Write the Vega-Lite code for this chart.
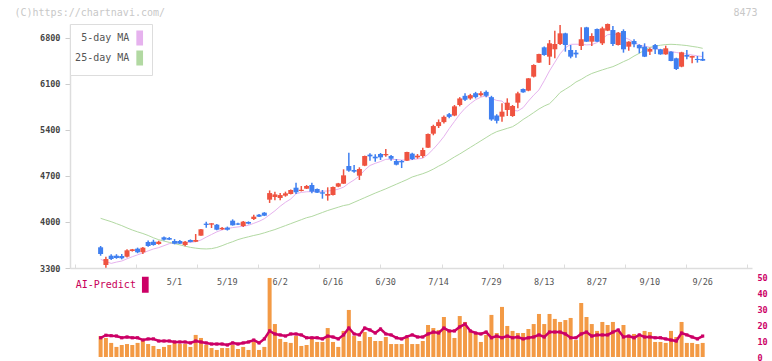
{
 "$schema": "https://vega.github.io/schema/vega-lite/v6.json",
 "background": "#ffffff",
 "padding": {"left": 14, "top": 7, "right": 2, "bottom": 0},
 "config": {"font": "DejaVu Sans Mono", "view": {"stroke": null}, "axis": {"grid": false}, "line": {"strokeWidth": 1.7}},
 "datasets": {"candles": [
{"i":0,"d":"4/14","o":3615,"h":3635,"l":3487,"c":3513,"5-day MA":3432,"25-day MA":4056,"v":13.1,"ai":12},
{"i":1,"d":"4/15","o":3346,"h":3472,"l":3305,"c":3437,"5-day MA":3400,"25-day MA":4030,"v":11.9,"ai":13.6},
{"i":2,"d":"4/16","o":3487,"h":3510,"l":3420,"c":3437,"5-day MA":3370,"25-day MA":4005,"v":8.8,"ai":13.3},
{"i":3,"d":"4/17","o":3487,"h":3510,"l":3440,"c":3452,"5-day MA":3390,"25-day MA":3975,"v":6.3,"ai":13.1},
{"i":4,"d":"4/18","o":3483,"h":3513,"l":3432,"c":3448,"5-day MA":3406,"25-day MA":3945,"v":7.5,"ai":12},
{"i":5,"d":"4/21","o":3472,"h":3585,"l":3460,"c":3569,"5-day MA":3440,"25-day MA":3910,"v":8.1,"ai":12.5},
{"i":6,"d":"4/22","o":3559,"h":3590,"l":3550,"c":3584,"5-day MA":3472,"25-day MA":3878,"v":7.5,"ai":12},
{"i":7,"d":"4/23","o":3594,"h":3610,"l":3525,"c":3539,"5-day MA":3500,"25-day MA":3850,"v":8.8,"ai":12},
{"i":8,"d":"4/24","o":3539,"h":3620,"l":3513,"c":3609,"5-day MA":3530,"25-day MA":3825,"v":10,"ai":10.6},
{"i":9,"d":"4/25","o":3696,"h":3720,"l":3625,"c":3635,"5-day MA":3560,"25-day MA":3795,"v":8.1,"ai":11.3},
{"i":10,"d":"4/28","o":3700,"h":3730,"l":3640,"c":3650,"5-day MA":3590,"25-day MA":3760,"v":6.9,"ai":11.3},
{"i":11,"d":"4/30","o":3665,"h":3715,"l":3655,"c":3700,"5-day MA":3610,"25-day MA":3730,"v":5,"ai":10},
{"i":12,"d":"5/1","o":3767,"h":3780,"l":3720,"c":3731,"5-day MA":3640,"25-day MA":3710,"v":6.3,"ai":10},
{"i":13,"d":"5/2","o":3756,"h":3770,"l":3725,"c":3731,"5-day MA":3670,"25-day MA":3690,"v":7.5,"ai":10},
{"i":14,"d":"5/7","o":3711,"h":3740,"l":3660,"c":3670,"5-day MA":3685,"25-day MA":3672,"v":8.8,"ai":9.4},
{"i":15,"d":"5/8","o":3711,"h":3725,"l":3665,"c":3670,"5-day MA":3685,"25-day MA":3652,"v":8.1,"ai":9.4},
{"i":16,"d":"5/9","o":3650,"h":3710,"l":3630,"c":3700,"5-day MA":3685,"25-day MA":3632,"v":8.1,"ai":9.4},
{"i":17,"d":"5/12","o":3726,"h":3735,"l":3690,"c":3696,"5-day MA":3690,"25-day MA":3614,"v":6.3,"ai":8.8},
{"i":18,"d":"5/13","o":3700,"h":3817,"l":3695,"c":3726,"5-day MA":3700,"25-day MA":3602,"v":13.8,"ai":10},
{"i":19,"d":"5/14","o":3792,"h":3895,"l":3790,"c":3889,"5-day MA":3726,"25-day MA":3593,"v":11.9,"ai":9.4},
{"i":20,"d":"5/15","o":3975,"h":4005,"l":3913,"c":3955,"5-day MA":3770,"25-day MA":3590,"v":7.5,"ai":8.8},
{"i":21,"d":"5/16","o":3960,"h":3982,"l":3909,"c":3980,"5-day MA":3810,"25-day MA":3595,"v":5.6,"ai":8.1},
{"i":22,"d":"5/19","o":3959,"h":3970,"l":3875,"c":3883,"5-day MA":3850,"25-day MA":3612,"v":4.4,"ai":8.1},
{"i":23,"d":"5/20","o":3889,"h":3925,"l":3880,"c":3910,"5-day MA":3880,"25-day MA":3640,"v":5.6,"ai":8.1},
{"i":24,"d":"5/21","o":3915,"h":3930,"l":3870,"c":3882,"5-day MA":3900,"25-day MA":3672,"v":5.6,"ai":7.5},
{"i":25,"d":"5/22","o":4020,"h":4040,"l":3945,"c":3950,"5-day MA":3915,"25-day MA":3700,"v":7.5,"ai":8.8},
{"i":26,"d":"5/23","o":3978,"h":3990,"l":3955,"c":3960,"5-day MA":3925,"25-day MA":3732,"v":5,"ai":8.1},
{"i":27,"d":"5/26","o":3939,"h":4015,"l":3925,"c":4005,"5-day MA":3935,"25-day MA":3755,"v":6.3,"ai":8.8},
{"i":28,"d":"5/27","o":4000,"h":4010,"l":3965,"c":3975,"5-day MA":3950,"25-day MA":3775,"v":4.4,"ai":9.4},
{"i":29,"d":"5/28","o":4046,"h":4110,"l":4030,"c":4081,"5-day MA":3980,"25-day MA":3795,"v":9.4,"ai":10.6},
{"i":30,"d":"5/29","o":4111,"h":4120,"l":4075,"c":4081,"5-day MA":4010,"25-day MA":3812,"v":4.4,"ai":8.8},
{"i":31,"d":"5/30","o":4142,"h":4150,"l":4090,"c":4096,"5-day MA":4050,"25-day MA":3835,"v":6.3,"ai":11.3},
{"i":32,"d":"6/2","o":4340,"h":4480,"l":4290,"c":4440,"5-day MA":4110,"25-day MA":3860,"v":49.4,"ai":16.3},
{"i":33,"d":"6/3","o":4380,"h":4460,"l":4330,"c":4420,"5-day MA":4170,"25-day MA":3885,"v":20.6,"ai":14.4},
{"i":34,"d":"6/4","o":4365,"h":4440,"l":4330,"c":4410,"5-day MA":4240,"25-day MA":3915,"v":11.3,"ai":13.8},
{"i":35,"d":"6/5","o":4401,"h":4462,"l":4385,"c":4436,"5-day MA":4300,"25-day MA":3945,"v":9.4,"ai":13.1},
{"i":36,"d":"6/6","o":4426,"h":4495,"l":4420,"c":4487,"5-day MA":4350,"25-day MA":3975,"v":8.8,"ai":14.4},
{"i":37,"d":"6/9","o":4522,"h":4598,"l":4426,"c":4452,"5-day MA":4430,"25-day MA":4005,"v":13.1,"ai":14.4},
{"i":38,"d":"6/10","o":4472,"h":4548,"l":4465,"c":4490,"5-day MA":4450,"25-day MA":4035,"v":6.9,"ai":13.8},
{"i":39,"d":"6/11","o":4507,"h":4563,"l":4502,"c":4548,"5-day MA":4460,"25-day MA":4065,"v":7.5,"ai":12},
{"i":40,"d":"6/12","o":4563,"h":4598,"l":4436,"c":4462,"5-day MA":4462,"25-day MA":4085,"v":11.3,"ai":12},
{"i":41,"d":"6/13","o":4502,"h":4510,"l":4440,"c":4446,"5-day MA":4465,"25-day MA":4115,"v":9.4,"ai":12},
{"i":42,"d":"6/16","o":4452,"h":4487,"l":4355,"c":4432,"5-day MA":4468,"25-day MA":4145,"v":9.4,"ai":11.3},
{"i":43,"d":"6/17","o":4401,"h":4528,"l":4325,"c":4426,"5-day MA":4472,"25-day MA":4175,"v":18.1,"ai":13.1},
{"i":44,"d":"6/18","o":4411,"h":4540,"l":4405,"c":4533,"5-day MA":4480,"25-day MA":4200,"v":9.4,"ai":12.5},
{"i":45,"d":"6/19","o":4538,"h":4595,"l":4530,"c":4588,"5-day MA":4500,"25-day MA":4225,"v":6.3,"ai":11.3},
{"i":46,"d":"6/20","o":4583,"h":4802,"l":4580,"c":4710,"5-day MA":4530,"25-day MA":4250,"v":16.3,"ai":13.8},
{"i":47,"d":"6/23","o":4852,"h":5055,"l":4766,"c":4781,"5-day MA":4590,"25-day MA":4265,"v":29.4,"ai":18.1},
{"i":48,"d":"6/24","o":4791,"h":4867,"l":4751,"c":4766,"5-day MA":4640,"25-day MA":4300,"v":13.1,"ai":14.4},
{"i":49,"d":"6/25","o":4705,"h":4832,"l":4639,"c":4806,"5-day MA":4700,"25-day MA":4335,"v":10,"ai":13.8},
{"i":50,"d":"6/26","o":4857,"h":5010,"l":4850,"c":5004,"5-day MA":4790,"25-day MA":4370,"v":15.6,"ai":18.1},
{"i":51,"d":"6/27","o":5025,"h":5045,"l":4933,"c":4999,"5-day MA":4860,"25-day MA":4405,"v":12.5,"ai":16.9},
{"i":52,"d":"6/30","o":4994,"h":5030,"l":4918,"c":4969,"5-day MA":4893,"25-day MA":4440,"v":10,"ai":15},
{"i":53,"d":"7/1","o":5035,"h":5050,"l":4943,"c":4984,"5-day MA":4920,"25-day MA":4472,"v":10,"ai":17.5},
{"i":54,"d":"7/2","o":5015,"h":5111,"l":4994,"c":5035,"5-day MA":4954,"25-day MA":4505,"v":12.5,"ai":14.4},
{"i":55,"d":"7/3","o":5004,"h":5020,"l":4933,"c":4963,"5-day MA":4954,"25-day MA":4540,"v":8.1,"ai":13.8},
{"i":56,"d":"7/4","o":4928,"h":4958,"l":4862,"c":4872,"5-day MA":4950,"25-day MA":4575,"v":8.1,"ai":12},
{"i":57,"d":"7/7","o":4928,"h":4943,"l":4821,"c":4908,"5-day MA":4943,"25-day MA":4610,"v":8.1,"ai":11.3},
{"i":58,"d":"7/8","o":4933,"h":5070,"l":4928,"c":5065,"5-day MA":4943,"25-day MA":4645,"v":11.9,"ai":12.7},
{"i":59,"d":"7/9","o":5040,"h":5055,"l":4943,"c":4958,"5-day MA":4950,"25-day MA":4685,"v":8.1,"ai":13.8},
{"i":60,"d":"7/10","o":4984,"h":5035,"l":4963,"c":5009,"5-day MA":4960,"25-day MA":4710,"v":8.1,"ai":12.5},
{"i":61,"d":"7/11","o":5004,"h":5131,"l":4979,"c":5096,"5-day MA":4970,"25-day MA":4735,"v":10,"ai":12.5},
{"i":62,"d":"7/14","o":5131,"h":5345,"l":5125,"c":5339,"5-day MA":5030,"25-day MA":4766,"v":20,"ai":14.4},
{"i":63,"d":"7/15","o":5344,"h":5480,"l":5320,"c":5460,"5-day MA":5110,"25-day MA":4805,"v":18.1,"ai":15.6},
{"i":64,"d":"7/16","o":5460,"h":5560,"l":5430,"c":5520,"5-day MA":5200,"25-day MA":4850,"v":16.9,"ai":15},
{"i":65,"d":"7/17","o":5520,"h":5620,"l":5500,"c":5600,"5-day MA":5300,"25-day MA":4890,"v":25,"ai":18.1},
{"i":66,"d":"7/18","o":5640,"h":5660,"l":5580,"c":5600,"5-day MA":5420,"25-day MA":4940,"v":16.9,"ai":16.3},
{"i":67,"d":"7/22","o":5620,"h":5780,"l":5610,"c":5760,"5-day MA":5530,"25-day MA":4990,"v":11.9,"ai":16.3},
{"i":68,"d":"7/23","o":5780,"h":5900,"l":5760,"c":5880,"5-day MA":5640,"25-day MA":5035,"v":25.6,"ai":18.8},
{"i":69,"d":"7/24","o":5920,"h":5960,"l":5840,"c":5860,"5-day MA":5730,"25-day MA":5085,"v":21.9,"ai":20.6},
{"i":70,"d":"7/25","o":5880,"h":5950,"l":5860,"c":5930,"5-day MA":5800,"25-day MA":5135,"v":16.3,"ai":16.3},
{"i":71,"d":"7/28","o":5960,"h":5980,"l":5880,"c":5900,"5-day MA":5860,"25-day MA":5185,"v":14.4,"ai":15},
{"i":72,"d":"7/29","o":5930,"h":5990,"l":5910,"c":5960,"5-day MA":5900,"25-day MA":5235,"v":9.4,"ai":14.4},
{"i":73,"d":"7/30","o":5980,"h":6000,"l":5900,"c":5920,"5-day MA":5920,"25-day MA":5285,"v":13.8,"ai":15.6},
{"i":74,"d":"7/31","o":5900,"h":5920,"l":5540,"c":5560,"5-day MA":5880,"25-day MA":5335,"v":26.3,"ai":12},
{"i":75,"d":"8/1","o":5620,"h":5640,"l":5500,"c":5540,"5-day MA":5850,"25-day MA":5375,"v":15,"ai":13.1},
{"i":76,"d":"8/4","o":5603,"h":5806,"l":5527,"c":5679,"5-day MA":5840,"25-day MA":5400,"v":31.3,"ai":12},
{"i":77,"d":"8/5","o":5704,"h":5882,"l":5613,"c":5816,"5-day MA":5765,"25-day MA":5425,"v":19.4,"ai":13.1},
{"i":78,"d":"8/6","o":5613,"h":5780,"l":5600,"c":5765,"5-day MA":5700,"25-day MA":5450,"v":16.3,"ai":12},
{"i":79,"d":"8/7","o":5816,"h":5983,"l":5730,"c":5958,"5-day MA":5690,"25-day MA":5500,"v":15,"ai":12.5},
{"i":80,"d":"8/8","o":6024,"h":6030,"l":5965,"c":5973,"5-day MA":5740,"25-day MA":5560,"v":15,"ai":11.3},
{"i":81,"d":"8/12","o":5999,"h":6190,"l":5990,"c":6186,"5-day MA":5840,"25-day MA":5610,"v":17.5,"ai":12},
{"i":82,"d":"8/13","o":6212,"h":6400,"l":6200,"c":6389,"5-day MA":5930,"25-day MA":5665,"v":20.6,"ai":12.5},
{"i":83,"d":"8/14","o":6425,"h":6560,"l":6420,"c":6556,"5-day MA":6010,"25-day MA":5720,"v":26.9,"ai":13.8},
{"i":84,"d":"8/15","o":6658,"h":6670,"l":6530,"c":6541,"5-day MA":6150,"25-day MA":5765,"v":20.6,"ai":12.5},
{"i":85,"d":"8/18","o":6516,"h":6770,"l":6389,"c":6719,"5-day MA":6300,"25-day MA":5800,"v":26.9,"ai":15.6},
{"i":86,"d":"8/19","o":6628,"h":6912,"l":6491,"c":6709,"5-day MA":6430,"25-day MA":5880,"v":23.8,"ai":15.6},
{"i":87,"d":"8/20","o":6709,"h":6998,"l":6693,"c":6871,"5-day MA":6560,"25-day MA":5970,"v":21.9,"ai":15.6},
{"i":88,"d":"8/21","o":6871,"h":6880,"l":6592,"c":6693,"5-day MA":6650,"25-day MA":6020,"v":23.1,"ai":14.4},
{"i":89,"d":"8/22","o":6617,"h":6693,"l":6491,"c":6516,"5-day MA":6704,"25-day MA":6070,"v":24.4,"ai":12},
{"i":90,"d":"8/25","o":6577,"h":6617,"l":6501,"c":6551,"5-day MA":6705,"25-day MA":6130,"v":10.6,"ai":12},
{"i":91,"d":"8/26","o":6678,"h":6962,"l":6617,"c":6780,"5-day MA":6704,"25-day MA":6170,"v":33.8,"ai":14.4},
{"i":92,"d":"8/27","o":6962,"h":6970,"l":6740,"c":6744,"5-day MA":6695,"25-day MA":6220,"v":25,"ai":15.6},
{"i":93,"d":"8/28","o":6744,"h":6871,"l":6678,"c":6830,"5-day MA":6700,"25-day MA":6260,"v":20.6,"ai":13.1},
{"i":94,"d":"8/29","o":6937,"h":6945,"l":6740,"c":6744,"5-day MA":6730,"25-day MA":6288,"v":16.3,"ai":13.8},
{"i":95,"d":"9/1","o":6719,"h":6972,"l":6693,"c":6947,"5-day MA":6790,"25-day MA":6315,"v":21.9,"ai":13.8},
{"i":96,"d":"9/2","o":6912,"h":7020,"l":6905,"c":7013,"5-day MA":6850,"25-day MA":6340,"v":20,"ai":13.8},
{"i":97,"d":"9/3","o":6922,"h":6983,"l":6678,"c":6709,"5-day MA":6860,"25-day MA":6364,"v":21.9,"ai":15.6},
{"i":98,"d":"9/4","o":6693,"h":6890,"l":6685,"c":6881,"5-day MA":6848,"25-day MA":6400,"v":15.6,"ai":16.9},
{"i":99,"d":"9/5","o":6906,"h":6932,"l":6577,"c":6628,"5-day MA":6815,"25-day MA":6440,"v":20,"ai":12.5},
{"i":100,"d":"9/8","o":6668,"h":6750,"l":6607,"c":6744,"5-day MA":6780,"25-day MA":6475,"v":12.5,"ai":13.1},
{"i":101,"d":"9/9","o":6754,"h":6780,"l":6658,"c":6704,"5-day MA":6735,"25-day MA":6525,"v":14.4,"ai":12},
{"i":102,"d":"9/10","o":6693,"h":6704,"l":6567,"c":6643,"5-day MA":6693,"25-day MA":6567,"v":12.5,"ai":13.8},
{"i":103,"d":"9/11","o":6668,"h":6719,"l":6510,"c":6516,"5-day MA":6675,"25-day MA":6615,"v":16.3,"ai":12.5},
{"i":104,"d":"9/12","o":6592,"h":6653,"l":6541,"c":6633,"5-day MA":6658,"25-day MA":6658,"v":15.6,"ai":12.5},
{"i":105,"d":"9/16","o":6693,"h":6709,"l":6556,"c":6628,"5-day MA":6640,"25-day MA":6675,"v":9.4,"ai":12},
{"i":106,"d":"9/17","o":6628,"h":6635,"l":6545,"c":6551,"5-day MA":6620,"25-day MA":6690,"v":9.4,"ai":12},
{"i":107,"d":"9/18","o":6551,"h":6683,"l":6545,"c":6643,"5-day MA":6605,"25-day MA":6700,"v":8.8,"ai":11.3},
{"i":108,"d":"9/19","o":6592,"h":6600,"l":6445,"c":6450,"5-day MA":6592,"25-day MA":6704,"v":16.3,"ai":10.6},
{"i":109,"d":"9/22","o":6491,"h":6500,"l":6313,"c":6328,"5-day MA":6580,"25-day MA":6700,"v":12.5,"ai":10},
{"i":110,"d":"9/24","o":6364,"h":6590,"l":6355,"c":6582,"5-day MA":6567,"25-day MA":6693,"v":21.9,"ai":15},
{"i":111,"d":"9/25","o":6541,"h":6617,"l":6475,"c":6516,"5-day MA":6555,"25-day MA":6685,"v":8.8,"ai":13.8},
{"i":112,"d":"9/26","o":6501,"h":6530,"l":6415,"c":6526,"5-day MA":6541,"25-day MA":6672,"v":8.8,"ai":12.5},
{"i":113,"d":"9/29","o":6481,"h":6526,"l":6425,"c":6465,"5-day MA":6528,"25-day MA":6660,"v":8.1,"ai":11.3},
{"i":114,"d":"9/30","o":6481,"h":6592,"l":6450,"c":6455,"5-day MA":6516,"25-day MA":6643,"v":8.8,"ai":13.1}
 ]},
 "data": {"name": "candles"},
 "spacing": 0,
 "resolve": {"scale": {"color": "independent"}, "legend": {"color": "independent"}},
 "vconcat": [
  {
   "width": 682,
   "height": 244,
   "layer": [
    {
     "mark": {"type": "line", "strokeWidth": 1, "stroke": "#e6b2ee"},
     "encoding": {
      "x": {"field": "i", "type": "quantitative", "scale": {"domain": [-4.85, 122.39], "nice": false, "zero": false},
            "axis": {"orient": "bottom", "values": [-4.85, 6.7173, 18.2846, 29.8519, 41.4192, 52.9865, 64.5538, 76.1211, 87.6884, 99.2557, 110.823, 122.39],
                     "tickCount": 12, "labels": false, "tickSize": -4, "tickColor": "#dddddd", "tickWidth": 1, "domainColor": "#dddddd", "domainWidth": 1.5,
                     "title": "8473", "titleX": 687, "titleY": -256, "titleAlign": "right", "titleBaseline": "middle", "titleAngle": 0,
                     "titleColor": "#c8c8c8", "titleFont": "DejaVu Sans Mono", "titleFontSize": 10, "titleFontWeight": "normal"}},
      "y": {"field": "5-day MA", "type": "quantitative", "scale": {"domain": [3300, 7013], "nice": false, "zero": false},
            "axis": {"orient": "left", "values": [3300, 4000, 4700, 5400, 6100, 6800], "tickCount": 6, "format": "d", "domainColor": "#dddddd", "domainWidth": 1.5,
                     "tickColor": "#cccccc", "tickSize": 5, "tickWidth": 1, "labelPadding": 5, "labelFontSize": 8.5, "labelFontWeight": "bold",
                     "labelColor": "#444444", "labelFont": "DejaVu Sans Mono", "labelOverlap": false,
                     "title": "(C)https://chartnavi.com/", "titleAngle": 0, "titleX": -56, "titleY": -12, "titleAlign": "left", "titleBaseline": "middle",
                     "titleColor": "#c8c8c8", "titleFont": "DejaVu Sans Mono", "titleFontSize": 10, "titleFontWeight": "normal"}},
      "color": {"datum": "5-day MA", "type": "nominal", "scale": {"domain": ["5-day MA", "25-day MA"], "range": ["#e6b2ee", "#b2d9a2"]},
                "legend": {"orient": "none", "legendX": 0, "legendY": 0, "title": null, "direction": "vertical", "values": ["5-day MA", "25-day MA"],
                           "strokeColor": "#dddddd", "fillColor": "#ffffff", "padding": 5.5,
                           "symbolType": "M-0.3333,-1V1M-0.2,-1V1M-0.0667,-1V1M0.0667,-1V1M0.2,-1V1M0.3333,-1V1", "symbolSize": 225, "symbolStrokeWidth": 1.7, "symbolOpacity": 1,
                           "labelAlign": "right", "labelOffset": -18.9, "symbolOffset": 55.7, "rowPadding": -4,
                           "labelFont": "DejaVu Sans Mono", "labelFontSize": 10, "labelColor": "#555555"}}
     }
    },
    {
     "mark": {"type": "line", "strokeWidth": 1, "stroke": "#b2d9a2"},
     "encoding": {
      "x": {"field": "i", "type": "quantitative", "scale": {"domain": [-4.85, 122.39], "nice": false, "zero": false}},
      "y": {"field": "25-day MA", "type": "quantitative", "scale": {"domain": [3300, 7013], "nice": false, "zero": false}},
      "color": {"datum": "25-day MA", "type": "nominal"}
     }
    },
    {
     "mark": {"type": "rule", "strokeWidth": 1.5},
     "encoding": {
      "x": {"field": "i", "type": "quantitative", "scale": {"domain": [-4.85, 122.39], "nice": false, "zero": false}},
      "y": {"field": "l", "type": "quantitative", "scale": {"domain": [3300, 7013], "nice": false, "zero": false}},
      "y2": {"field": "h"},
      "stroke": {"condition": {"test": "datum.c >= datum.o", "value": "#ef5340"}, "value": "#3f7ff0"}
     }
    },
    {
     "mark": {"type": "bar", "size": 5},
     "encoding": {
      "x": {"field": "i", "type": "quantitative", "scale": {"domain": [-4.85, 122.39], "nice": false, "zero": false}},
      "y": {"field": "o", "type": "quantitative", "scale": {"domain": [3300, 7013], "nice": false, "zero": false}},
      "y2": {"field": "c"},
      "fill": {"condition": {"test": "datum.c >= datum.o", "value": "#ef5340"}, "value": "#3f7ff0"}
     }
    }
   ]
  },
  {
   "width": 682,
   "height": 80,
   "layer": [
    {
     "mark": {"type": "bar", "size": 4, "color": "#f39a45"},
     "encoding": {
      "x": {"field": "i", "type": "quantitative", "scale": {"domain": [-4.85, 122.39], "nice": false, "zero": false},
            "axis": {"orient": "top", "values": [12, 22, 32, 42, 52, 62, 72, 82, 92, 102, 112], "tickCount": 11, "labelExpr": "data('candles')[datum.value].d",
                     "domain": false, "ticks": false, "tickSize": 0, "labelPadding": -4, "labelOffset": 10, "labelAlign": "center", "labelBaseline": "middle",
                     "labelFontSize": 8.5, "labelColor": "#555555", "labelFont": "DejaVu Sans Mono", "labelFlush": false, "labelOverlap": false, "title": null}},
      "y": {"field": "v", "type": "quantitative", "scale": {"domain": [0, 50], "nice": false},
            "axis": {"orient": "right", "values": [0, 10, 20, 30, 40, 50], "tickCount": 6, "format": "d", "domain": false, "ticks": false, "tickSize": 0, "labelPadding": 5,
                     "labelOverlap": false, "labelFlush": false, "labelBound": false,
                     "labelColor": "#cc0066", "labelFontSize": 8.5, "labelFontWeight": "bold", "labelFont": "DejaVu Sans Mono", "title": null}}
     }
    },
    {
     "mark": {"type": "line", "strokeWidth": 2.5, "point": {"filled": true, "shape": "square", "size": 10}},
     "encoding": {
      "x": {"field": "i", "type": "quantitative", "scale": {"domain": [-4.85, 122.39], "nice": false, "zero": false}},
      "y": {"field": "ai", "type": "quantitative", "scale": {"domain": [0, 50], "nice": false}},
      "color": {"datum": "AI-Predict", "type": "nominal", "scale": {"domain": ["AI-Predict"], "range": ["#cc0066"]},
                "legend": {"orient": "none", "legendX": 0, "legendY": -1.3, "title": null,
                           "symbolType": "M-0.3125,-1V1M-0.1875,-1V1M-0.0625,-1V1M0.0625,-1V1M0.1875,-1V1M0.3125,-1V1", "symbolSize": 256, "symbolStrokeWidth": 1.7,
                           "labelAlign": "left", "labelOffset": -78.6, "symbolOffset": 66.3, "padding": 0,
                           "labelFont": "DejaVu Sans Mono", "labelFontSize": 10, "labelColor": "#c8005a"}}
     }
    }
   ]
  }
 ]
}
